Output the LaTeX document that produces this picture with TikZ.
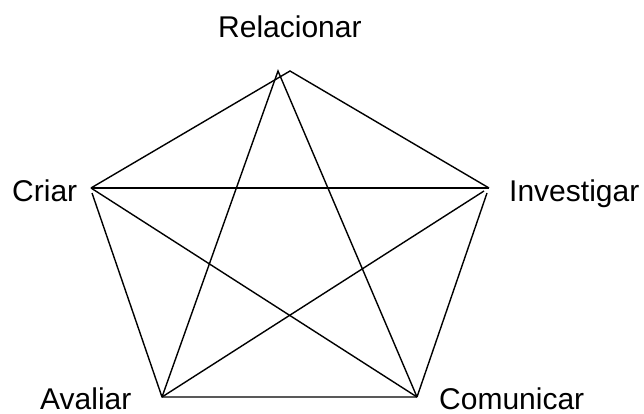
\documentclass[tikz,border=0pt]{standalone}
\usepackage{fontspec}
\setmainfont{Liberation Sans}
\begin{document}
\begin{tikzpicture}[x=1pt,y=-1pt,
  lbl/.style={inner sep=0pt,anchor=base west,font=\fontsize{30}{36}\selectfont},
  edge/.style={line width=1.4pt,line join=miter}]
\useasboundingbox (0,0) rectangle (644,414);
% labels
\node[lbl] (rel) at (218,38) {Relacionar};
\node[lbl] (cri) at (12,201.5) {Criar};
\node[lbl] (inv) at (509,201.5) {Investigar};
\node[lbl] (ava) at (40,409) {Avaliar};
\node[lbl] (com) at (439,409) {Comunicar};
% pentagon corners
\coordinate (PT) at (290,71);
\coordinate (PL) at (91,188);
\coordinate (PLd) at (92,193);
\coordinate (PR) at (489,188);
\coordinate (PRd) at (487,193);
\coordinate (PBL) at (167,397);
\coordinate (PBR) at (413,397);
% star corners
\coordinate (ST) at (278,71);
\coordinate (SL) at (91,188);
\coordinate (SR) at (484,191);
\coordinate (SBL) at (162,397);
\coordinate (SBR) at (417,397);
% pentagon
\draw[edge] (PL) -- (PT) -- (PR);
\draw[edge] (PLd) -- (SBL) -- (PBR) -- (SBR);
\draw[edge] (PRd) -- (SBR);
% star
\draw[edge] (SBL) -- (ST) -- (SBR);
\draw[edge] (SL) -- (PR);
\draw[edge] (SL) -- (SBR);
\draw[edge] (SR) -- (SBL);
\end{tikzpicture}
\end{document}
